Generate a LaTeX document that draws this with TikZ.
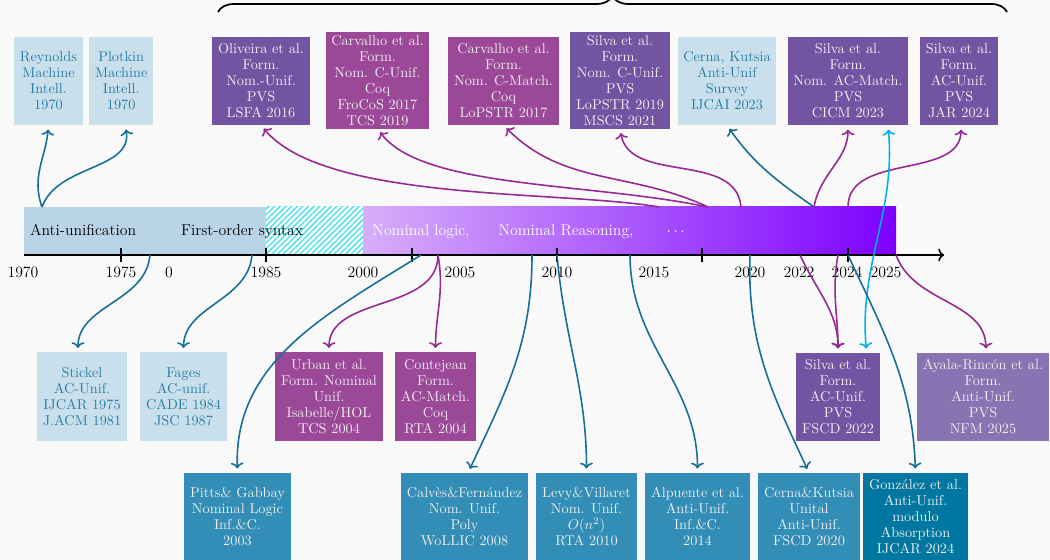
\documentclass[tikz,border=0pt]{standalone}
\usepackage{amsmath}
\usepackage{xcolor}
\usepackage{tikz}
\usetikzlibrary{arrows.meta, positioning, patterns.meta, decorations.pathreplacing}

\definecolor{pagebg}{RGB}{249,249,250}
\definecolor{lightfill}{RGB}{201,224,236}
\definecolor{lighttext}{RGB}{41,125,166}
\definecolor{bandblue}{RGB}{184,212,230}
\definecolor{formpurple}{RGB}{115,84,163}
\definecolor{formmagenta}{RGB}{156,72,153}
\definecolor{formlilac}{RGB}{138,115,178}
\definecolor{unifblue}{RGB}{50,142,182}
\definecolor{unifdeep}{RGB}{0,119,160}
\definecolor{arrowblue}{RGB}{20,110,150}
\definecolor{arrowpurple}{RGB}{150,40,145}
\definecolor{arrowcyan}{RGB}{0,176,240}
\definecolor{gradleft}{RGB}{216,174,250}
\definecolor{gradright}{RGB}{125,0,255}
\definecolor{hatchcyan}{RGB}{60,225,240}

\begin{document}
\begin{tikzpicture}[
		x=0.7pt, y=0.7pt,
		paper/.style={rectangle, align=center, inner xsep=4pt, inner ysep=2pt, minimum height=61.6pt, font=\fontsize{10}{11.2}\selectfont, text=white!93!black},
		lightpaper/.style={paper, fill=lightfill, text=lighttext},
		purplepaper/.style={paper, fill=formpurple},
		magentapaper/.style={paper, fill=formmagenta},
		lilacpaper/.style={paper, fill=formlilac},
		bluepaper/.style={paper, fill=unifblue},
		deeppaper/.style={paper, fill=unifdeep},
		citeline/.style={line width=1.1pt, -{Computer Modern Rightarrow[length=4pt, width=9pt]}, shorten >=3pt},
		bluecite/.style={citeline, draw=arrowblue},
		purplecite/.style={citeline, draw=arrowpurple},
		cyancite/.style={citeline, draw=arrowcyan, {Computer Modern Rightarrow[length=4pt, width=9pt]}-{Computer Modern Rightarrow[length=4pt, width=9pt]}, shorten <=3pt},
		year/.style={anchor=base, font=\fontsize{11}{13}\selectfont},
		era/.style={anchor=base, font=\fontsize{11}{13}\selectfont}
	]
	\useasboundingbox (0,0) rectangle (1050,-560);
	\fill[pagebg] (0,0) rectangle (1050,-560);

	% Brace over the formalisations
	\draw[decorate, decoration={brace, amplitude=11.2pt}, line width=1.2pt] (218,-12) -- (1007,-12);

	% Draw the timeline band
	\fill[bandblue] (24,-207) rectangle (266,-255);
	\fill[white] (266,-207) rectangle (363,-255);
	\fill[pattern={Lines[angle=45, distance=2.8pt, line width=0.9pt]}, pattern color=hatchcyan] (266,-207) rectangle (363,-255);
	\shade[left color=gradleft, right color=gradright] (363,-207) rectangle (896,-255);

	\node[era, anchor=base west] (antiunif) at (25,-236) {Anti-unification};
	\node[era] (firstorder) at (242,-236) {First-order syntax};
	\node[era, text=white] (nomlogic) at (421,-236) {Nominal logic,};
	\node[era, text=white] (nomreason) at (566,-236) {Nominal Reasoning,};
	\node[era, text=white] (moredots) at (677,-236) {$\cdots$};

	% Draw the axis
	\draw[line width=1.1pt, -{Computer Modern Rightarrow[length=4pt, width=9pt]}] (24,-255) -- (944,-255);
	\foreach \t in {121,266,412,557,702,848}
		\draw[line width=1.1pt] (\t,-248) -- (\t,-262);
	\foreach \x/\lab in {23/1970, 121/1975, 169/0, 266/1985, 363/2000, 460/2005, 557/2010, 654/2015, 750/2020, 799/2022, 847/2024, 886/2025}
		\node[year] (yr\lab) at (\x,-278) {\lab};

	% Draw the boxes (top)
	\node[lightpaper] (reynolds) at (48.5,-81) {Reynolds\\Machine\\Intell.\\1970};
	\node[lightpaper, right=4.2pt of reynolds] (plotkin) {Plotkin\\Machine\\Intell.\\1970};
	\node[purplepaper] (oliveira) at (261,-81) {Oliveira et al.\\Form.\\Nom.-Unif.\\PVS\\LSFA 2016};
	\node[magentapaper] (carvalhoA) at (377.5,-80.5) {Carvalho et al.\\Form.\\Nom. C-Unif.\\Coq\\FroCoS 2017\\TCS 2019};
	\node[magentapaper] (carvalhoB) at (503.5,-81) {Carvalho et al.\\Form.\\Nom. C-Match.\\Coq\\LoPSTR 2017};
	\node[purplepaper] (silvaA) at (620,-80.5) {Silva et al.\\Form.\\Nom. C-Unif.\\PVS\\LoPSTR 2019\\MSCS 2021};
	\node[lightpaper] (cernaA) at (727,-81) {Cerna, Kutsia\\Anti-Unif\\Survey\\IJCAI 2023};
	\node[purplepaper] (silvaB) at (848,-81) {Silva et al.\\Form.\\Nom. AC-Match.\\PVS\\CICM 2023};
	\node[purplepaper] (silvaC) at (959,-81) {Silva et al.\\Form.\\AC-Unif.\\PVS\\JAR 2024};

	% Draw the boxes (bottom)
	\node[lightpaper] (stickel) at (82,-396.5) {Stickel\\AC-Unif.\\IJCAR 1975\\J.ACM 1981};
	\node[lightpaper, right=9pt of stickel] (fages) {Fages\\AC-unif.\\CADE 1984\\JSC 1987};
	\node[magentapaper] (urban) at (329,-396.5) {Urban et al.\\Form. Nominal\\Unif.\\Isabelle/HOL\\TCS 2004};
	\node[magentapaper] (contejean) at (435.5,-396.5) {Contejean\\Form.\\AC-Match.\\Coq\\RTA 2004};
	\node[purplepaper] (silvaD) at (838,-397) {Silva et al.\\Form.\\AC-Unif.\\PVS\\FSCD 2022};
	\node[lilacpaper] (ayala) at (983,-397) {Ayala-Rincón et al.\\Form.\\Anti-Unif.\\PVS\\NFM 2025};

	\node[bluepaper] (pitts) at (237.5,-517) {Pitts\& Gabbay\\Nominal Logic\\Inf.\&C.\\2003};
	\node[bluepaper] (calves) at (464.5,-517) {Calvès\&Fernández\\Nom. Unif.\\Poly\\WoLLIC 2008};
	\node[bluepaper] (levy) at (586.5,-517) {Levy\&Villaret\\Nom. Unif.\\$O(n^2)$\\RTA 2010};
	\node[bluepaper] (alpuente) at (697.5,-517) {Alpuente et al.\\Anti-Unif.\\Inf.\&C.\\2014};
	\node[bluepaper] (cernaB) at (809,-517) {Cerna\&Kutsia\\Unital\\Anti-Unif.\\FSCD 2020};
	\node[deeppaper] (gonzalez) at (915.5,-517) {González et al.\\Anti-Unif.\\modulo\\Absorption\\IJCAR 2024};

	% Points on the band
	\coordinate (a1) at (42,-207);
	\coordinate (n1) at (659,-207);
	\coordinate (n2) at (708,-207);
	\coordinate (n3) at (741,-207);
	\coordinate (n4) at (814,-207);
	\coordinate (n5) at (848,-207);
	\coordinate (b1) at (150,-255);
	\coordinate (b2) at (252,-255);
	\coordinate (b3) at (421,-255);
	\coordinate (b4) at (438,-255);
	\coordinate (b5) at (532,-255);
	\coordinate (b6) at (557,-255);
	\coordinate (b7) at (630,-255);
	\coordinate (b8) at (750,-255);
	\coordinate (b9) at (800,-255);
	\coordinate (b10) at (838,-255);
	\coordinate (b11) at (848,-255);
	\coordinate (b12) at (896,-255);

	% Draw the arrows (up)
	\draw[bluecite] (a1) to[out=110, in=-95] (reynolds.south);
	\draw[bluecite] (a1) to[out=70, in=-80] ([xshift=2.8pt]plotkin.south);
	\draw[purplecite] (n1) .. controls +(-99,17) and +(64,-77) .. (oliveira.south);
	\draw[purplecite] (n2) .. controls +(-120,25) and +(45,-60) .. (carvalhoA.south);
	\draw[purplecite] (n2) to[out=155, in=-45] (carvalhoB.south);
	\draw[purplecite] (n3) to[out=95, in=-80] (silvaA.south);
	\draw[bluecite] (n4) to[out=145, in=-55] (cernaA.south);
	\draw[purplecite] (n4) to[out=80, in=-90] (silvaB.south);
	\draw[purplecite] (n5) to[out=90, in=-90] ([xshift=1.4pt]silvaC.south);
	\draw[cyancite] ([xshift=28pt]silvaB.south) to[out=-85, in=95] ([xshift=20pt]silvaD.north);

	% Draw the arrows (down)
	\draw[bluecite] (b1) to[out=-95, in=90] ([xshift=-2.8pt]stickel.north);
	\draw[bluecite] (b2) to[out=-95, in=90] (fages.north);
	\draw[bluecite] (b3) to[out=-148, in=92] (pitts.north);
	\draw[purplecite] (b4) to[out=-90, in=90] (urban.north);
	\draw[purplecite] (b4) to[out=-80, in=90] (contejean.north);
	\draw[bluecite] (b5) to[out=-90, in=65] ([xshift=2.5pt]calves.north);
	\draw[bluecite] (b6) to[out=-85, in=90] (levy.north);
	\draw[bluecite] (b7) to[out=-90, in=90] (alpuente.north);
	\draw[bluecite] (b8) to[out=-92, in=115] (cernaB.north);
	\draw[purplecite] (b9) to[out=-65, in=90] (silvaD.north);
	\draw[purplecite] (b10) to[out=-100, in=90] (silvaD.north);
	\draw[bluecite] (b11) to[out=-65, in=92] (gonzalez.north);
	\draw[purplecite] (b12) to[out=-70, in=90] ([xshift=2pt]ayala.north);

\end{tikzpicture}
\end{document}
